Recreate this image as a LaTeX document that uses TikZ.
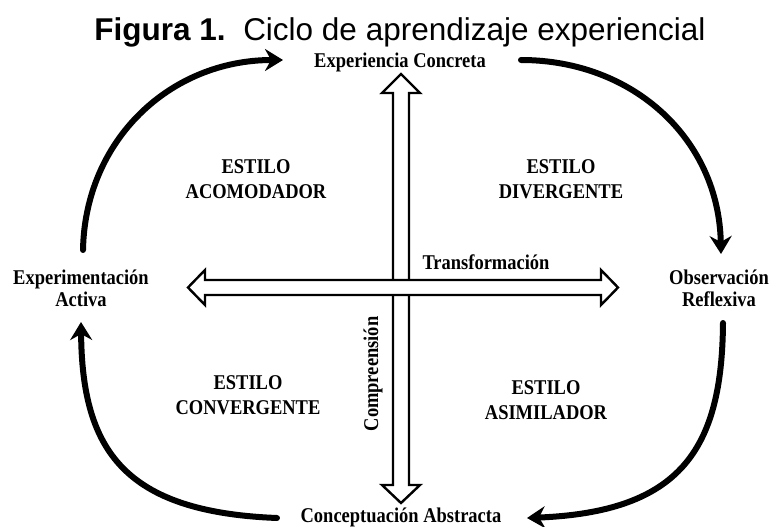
\documentclass[tikz,border=0pt]{standalone}
\usepackage{fontspec}
\setmainfont{Liberation Serif}
\newfontfamily\lblfont[FakeStretch=0.88]{Liberation Serif}
\newfontfamily\titlefont{Liberation Sans}
\usetikzlibrary{arrows.meta}
\tikzset{
  lbl/.style={inner sep=0pt, font=\lblfont\bfseries\fontsize{21}{22}\selectfont, align=center, anchor=base},
  estilo/.style={inner sep=0pt, font=\lblfont\bfseries\fontsize{21}{25}\selectfont, align=center, anchor=base},
  cyclearc/.style={line width=6pt, line cap=round, -{Stealth[length=18pt,width=22pt,inset=6pt]}},
  blockarrow/.style={draw=black, fill=white, line width=2.4pt, line join=miter}
}
\begin{document}
\begin{tikzpicture}[x=1pt,y=-1pt]
\useasboundingbox (0,0) rectangle (772,527);
% title
\node[inner sep=0pt, anchor=base, font=\titlefont\fontsize{31.5}{36}\selectfont] (title) at (400,41) {\textbf{Figura 1.}\ \ Ciclo de aprendizaje experiencial};
% pole labels (base anchor = baseline of the last line)
\node[lbl] (ec) at (400,68) {Experiencia Concreta};
\node[lbl] (ca) at (401,522) {Conceptuación Abstracta};
\node[lbl] (ea) at (81,306) {Experimentación\\Activa};
\node[lbl] (or) at (719,306) {Observación\\Reflexiva};
% styles
\node[estilo] (acom) at (256,198) {ESTILO\\ACOMODADOR};
\node[estilo] (div) at (561,198) {ESTILO\\DIVERGENTE};
\node[estilo] (conv) at (248,414) {ESTILO\\CONVERGENTE};
\node[estilo] (asim) at (546,419) {ESTILO\\ASIMILADOR};
% axis labels
\node[lbl] (tr) at (486,269) {Transformación};
\node[lbl, rotate=90] (co) at (378,374) {Compreensión};
% block arrows: vertical first, horizontal on top
\coordinate (vt) at (401,74);
\coordinate (vb) at (401,503);
\coordinate (hl) at (188,287.5);
\coordinate (hr) at (618,287.5);
\draw[blockarrow] (vt) -- ++(19,19) -- ++(-11,0) -- ++(0,392) -- ++(11,0) -- (vb)
  -- ++(-19,-18) -- ++(11,0) -- ++(0,-392) -- ++(-11,0) -- cycle;
\draw[blockarrow] (hl) -- ++(17,-17.5) -- ++(0,10) -- ++(396,0) -- ++(0,-10) -- (hr)
  -- ++(-17,17.5) -- ++(0,-10) -- ++(-396,0) -- ++(0,10) -- cycle;
% cycle arcs
\coordinate (a1s) at (83,250);
\coordinate (a1e) at (283,60);
\coordinate (a2s) at (521,60);
\coordinate (a2e) at (721,254);
\coordinate (a3s) at (723,323);
\coordinate (a3e) at (527,518);
\coordinate (a4s) at (277,518);
\coordinate (a4e) at (81,322);
\draw[cyclearc] (a1s) .. controls (85,140) and (170,60) .. (a1e);
\draw[cyclearc] (a2s) .. controls (634,60) and (719,140) .. (a2e);
\draw[cyclearc] (a3s) .. controls (722,450) and (680,512) .. (a3e);
\draw[cyclearc] (a4s) .. controls (124,512) and (82,450) .. (a4e);
\end{tikzpicture}
\end{document}
